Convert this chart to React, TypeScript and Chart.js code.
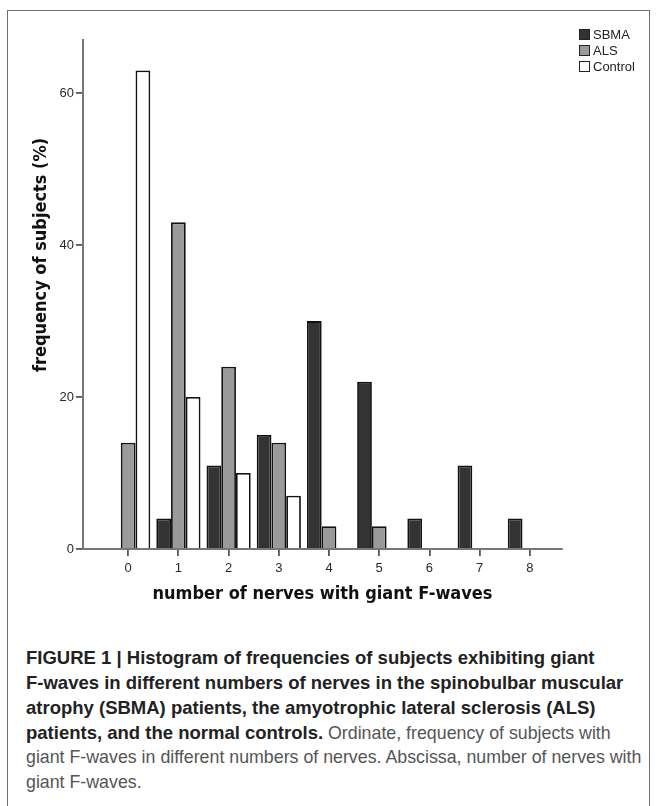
import React, { useEffect, useRef } from 'react';
import { Chart, registerables } from 'chart.js';

Chart.register(...registerables);

const nerveCounts = [0, 1, 2, 3, 4, 5, 6, 7, 8];
const sbmaValues = [0, 4, 11, 15, 30, 22, 4, 11, 4];
const alsValues = [14, 43, 24, 14, 3, 3, 0, 0, 0];
const controlValues = [63, 20, 10, 7, 0, 0, 0, 0, 0];
const yTickValues = [0, 20, 40, 60];
const seriesNames = ['SBMA', 'ALS', 'Control'];
const seriesFills = ['#333333', '#9a9a9a', '#ffffff'];
const xAxisTitle = 'number of nerves with giant F-waves';
const yAxisTitle = 'frequency of subjects (%)';

const captionBold = [
  'FIGURE 1 | Histogram of frequencies of subjects exhibiting giant',
  'F-waves in different numbers of nerves in the spinobulbar muscular',
  'atrophy (SBMA) patients, the amyotrophic lateral sclerosis (ALS)',
  'patients, and the normal controls.',
];
const captionRegular = [
  ' Ordinate, frequency of subjects with',
  'giant F-waves in different numbers of nerves. Abscissa, number of nerves with',
  'giant F-waves.',
];

const titleFont = "'DejaVu Sans Condensed', 'DejaVu Sans', sans-serif";
const tickFont = "'Liberation Sans', Arial, sans-serif";

const yTitlePlugin = {
  id: 'yTitleText',
  afterDraw(chart: any) {
    const ctx = chart.ctx;
    ctx.save();
    ctx.translate(41, 255);
    ctx.rotate(-Math.PI / 2);
    ctx.font = `bold 18px ${titleFont}`;
    ctx.fillStyle = '#111';
    ctx.textAlign = 'center';
    ctx.textBaseline = 'middle';
    ctx.fillText(yAxisTitle, 0, 0);
    ctx.restore();
  },
};

export default function App() {
  const canvasRef = useRef<HTMLCanvasElement | null>(null);

  useEffect(() => {
    if (!canvasRef.current) return;
    const toPoints = (vals: number[]) => vals.map((v, i) => ({ x: nerveCounts[i], y: v }));
    const seriesValues = [sbmaValues, alsValues, controlValues];
    const chart = new Chart(canvasRef.current, {
      type: 'bar',
      data: {
        datasets: seriesNames.map((name, k) => ({
          label: name,
          data: toPoints(seriesValues[k]),
          backgroundColor: seriesFills[k],
          borderColor: '#121212',
          borderWidth: (ctx: any) => (ctx.raw && ctx.raw.y === 0 ? 0 : 1.8),
          borderSkipped: 'start',
          categoryPercentage: 0.88,
          barPercentage: 1,
        })),
      },
      plugins: [yTitlePlugin],
      options: {
        responsive: false,
        animation: false,
        devicePixelRatio: 1,
        layout: { padding: { left: 0, right: 657 - 562, top: 40, bottom: 4.5 } },
        plugins: { legend: { display: false }, tooltip: { enabled: false } },
        scales: {
          x: {
            type: 'linear',
            min: -0.9,
            max: 8.64,
            offset: false,
            afterFit: (s: any) => { s.height = 56.5; },
            afterBuildTicks: (s: any) => { s.ticks = nerveCounts.map((v) => ({ value: v })); },
            ticks: {
              font: { family: tickFont, size: 13 },
              color: '#2a2a2a',
              padding: 5,
              maxRotation: 0,
              callback: (v: any) => String(v),
            },
            grid: { offset: false, drawOnChartArea: false, drawTicks: true, tickLength: 7, color: '#555', lineWidth: 1.8 },
            border: { display: true, color: '#777', width: 2 },
            title: {
              display: true,
              text: xAxisTitle,
              font: { family: titleFont, size: 18, weight: 'bold', lineHeight: 1.2 },
              color: '#111',
              padding: { top: 0, bottom: 0 },
            },
          },
          y: {
            type: 'linear',
            min: 0,
            max: 67,
            afterFit: (s: any) => { s.width = 83; },
            afterBuildTicks: (s: any) => { s.ticks = yTickValues.map((v) => ({ value: v })); },
            ticks: {
              font: { family: tickFont, size: 13 },
              color: '#2a2a2a',
              padding: 2,
              callback: (v: any) => String(v),
            },
            grid: { drawOnChartArea: false, drawTicks: true, tickLength: 7, color: '#555', lineWidth: 1.8 },
            border: { display: true, color: '#777', width: 2 },
            title: { display: false },
          },
        },
      },
    } as any);
    return () => chart.destroy();
  }, []);

  const captionLine: React.CSSProperties = {
    height: 25,
    lineHeight: '25px',
    whiteSpace: 'nowrap',
  };

  return (
    <div
      style={{
        position: 'absolute',
        left: 0,
        top: 0,
        width: 657,
        height: 806,
        overflow: 'hidden',
        background: '#fff',
        fontFamily: tickFont,
      }}
    >
      <div
        style={{
          position: 'absolute',
          left: 7,
          top: 10,
          width: 643,
          height: 900,
          border: '1px solid #6f6f6f',
          boxSizing: 'border-box',
        }}
      />
      <canvas
        ref={canvasRef}
        width={657}
        height={610}
        style={{ position: 'absolute', left: 0, top: 0, width: 657, height: 610 }}
      />
      <div style={{ position: 'absolute', left: 579, top: 26, fontSize: 13, color: '#222' }}>
        {seriesNames.map((name, k) => (
          <div key={name} style={{ display: 'flex', alignItems: 'center', height: 16 }}>
            <span
              style={{
                display: 'inline-block',
                width: 11,
                height: 11,
                boxSizing: 'border-box',
                border: '1.5px solid #222',
                background: seriesFills[k],
                marginRight: 3,
              }}
            />
            <span>{name}</span>
          </div>
        ))}
      </div>
      <div
        style={{
          position: 'absolute',
          left: 26,
          top: 645,
          fontSize: 18.5,
          color: '#222',
        }}
      >
        <div style={{ ...captionLine, fontWeight: 'bold' }}>{captionBold[0]}</div>
        <div style={{ ...captionLine, fontWeight: 'bold' }}>{captionBold[1]}</div>
        <div style={{ ...captionLine, fontWeight: 'bold' }}>{captionBold[2]}</div>
        <div style={captionLine}>
          <span style={{ fontWeight: 'bold' }}>{captionBold[3]}</span>
          <span style={{ color: '#555', fontSize: 17.8 }}>{captionRegular[0]}</span>
        </div>
        <div style={{ ...captionLine, color: '#555', fontSize: 17.8 }}>{captionRegular[1]}</div>
        <div style={{ ...captionLine, color: '#555', fontSize: 17.8 }}>{captionRegular[2]}</div>
      </div>
    </div>
  );
}
